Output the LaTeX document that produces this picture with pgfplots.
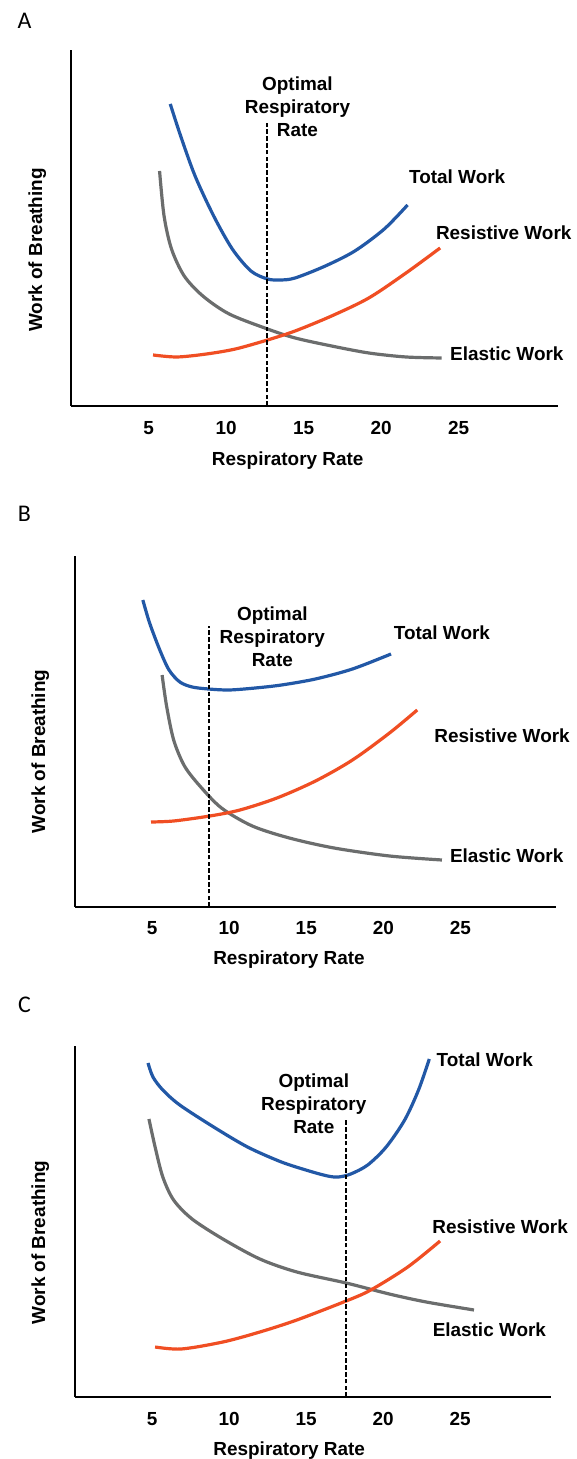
\documentclass[border=0pt]{standalone}
\usepackage{fontspec}
\setmainfont{Liberation Sans}
\newfontfamily\letterfont{Carlito}
\usepackage{pgfplots}
\pgfplotsset{compat=1.18}

\definecolor{totblue}{HTML}{2258A6}
\definecolor{resred}{HTML}{F04E23}
\definecolor{elgray}{HTML}{6B6D6D}

\newcommand{\lblfont}{\fontsize{19}{23}\selectfont\bfseries}

\tikzset{txt/.style={font=\lblfont, align=center, inner sep=0pt},
         panel/.style={font=\letterfont\fontsize{24}{26}\selectfont, anchor=base}}

\pgfplotsset{
 wob/.style={
  scale only axis,
  anchor=south west,
  axis x line*=bottom, axis y line*=left,
  axis line style={line width=2.4bp,-},
  xmin=0, ymin=0,
  xtick={5,10,15,20,25}, ytick=\empty,
  major tick length=0pt,
  /pgf/number format/assume math mode=true,
  tick label style={font=\lblfont},
  xticklabel style={anchor=base, yshift=-29bp},
  label style={font=\lblfont},
  xlabel={Respiratory Rate},
  ylabel={Work of Breathing},
  clip=false,
 },
 total/.style={color=totblue, line width=3.2bp, smooth},
 resist/.style={color=resred, line width=3.2bp, smooth},
 elastic/.style={color=elgray, line width=3.2bp, smooth},
 optimal/.style={black, line width=1.9bp, dash pattern=on 4.5bp off 2.3bp},
}

\begin{document}
\begin{tikzpicture}
\path[use as bounding box] (0,0) rectangle (577bp,1459bp);

% ---------------- Panel A ----------------
\node[panel] at (24.5bp,1430bp) {A};
\begin{axis}[wob, at={(71bp,1053bp)}, width=487bp, height=356bp,
  xmax=31.4, ymax=356,
  xlabel style={at={(axis description cs:0.445,0)}, anchor=base, yshift=-60bp},
  ylabel style={at={(axis description cs:-0.0595,0.438)}, anchor=base},
]
\addplot[total] coordinates {(6.4,302) (7.07,270) (8.0,230) (9.2,190) (10.4,157) (11.6,135) (12.67,127) (13.5,126) (14.45,128) (16.4,140) (18.3,155) (20.2,177) (21.7,201)};
\addplot[elastic] coordinates {(5.71,235) (6.0,190) (6.48,157) (7.3,130) (8.5,110) (10.2,92) (12.67,77) (14.45,68) (16.8,60) (19.2,53) (21.6,49) (23.9,48)};
\addplot[resist] coordinates {(5.29,51) (6.83,49) (8.74,52) (10.6,57) (12.67,66) (14.45,75) (16.8,90) (19.2,108) (21.6,133) (23.8,158)};
\addplot[optimal, line width=2.2bp] coordinates {(12.65,0) (12.65,283)};
\node[txt] at (axis cs:14.6,299) {Optimal\\Respiratory\\Rate};
\node[txt] at (axis cs:24.9,229) {Total Work};
\node[txt] at (axis cs:27.9,173) {Resistive Work};
\node[txt] at (axis cs:28.1,52) {Elastic Work};
\end{axis}

% ---------------- Panel B ----------------
\node[panel] at (24.5bp,937bp) {B};
\begin{axis}[wob, at={(75bp,552bp)}, width=481bp, height=351bp,
  xmax=31.2, ymax=351,
  xticklabel style={yshift=1bp},
  xlabel style={at={(axis description cs:0.445,0)}, anchor=base, yshift=-58bp},
  ylabel style={at={(axis description cs:-0.062,0.443)}, anchor=base},
]
\addplot[total] coordinates {(4.4,307) (4.84,284) (5.5,257) (6.1,237) (6.8,225) (7.6,220) (8.65,218) (10.0,217) (11.7,219) (13.4,222) (15.6,228) (18.0,238) (20.5,253)};
\addplot[elastic] coordinates {(5.65,232) (5.94,201) (6.4,167) (7.1,141) (8.1,121) (9.5,99) (11.5,81) (13.9,69) (16.8,59) (20.4,51) (23.8,47)};
\addplot[resist] coordinates {(4.93,85) (6.4,86) (8.75,91) (10.7,97) (13.1,109) (15.6,126) (18.0,147) (20.4,174) (22.2,197)};
\addplot[optimal] coordinates {(8.7,0) (8.7,281)};
\node[txt] at (axis cs:12.8,270) {Optimal\\Respiratory\\Rate};
\node[txt] at (axis cs:23.8,274) {Total Work};
\node[txt] at (axis cs:27.7,171) {Resistive Work};
\node[txt] at (axis cs:28.0,51) {Elastic Work};
\end{axis}

% ---------------- Panel C ----------------
\node[panel] at (24.5bp,446bp) {C};
\begin{axis}[wob, at={(75bp,62bp)}, width=476bp, height=351bp,
  xmax=30.9, ymax=351,
  xticklabel style={yshift=1bp},
  xlabel style={at={(axis description cs:0.45,0)}, anchor=base, yshift=-58bp},
  ylabel style={at={(axis description cs:-0.063,0.44)}, anchor=base},
]
\addplot[total] coordinates {(4.74,334) (5.06,320) (5.7,307) (6.8,292) (9.0,270) (11.2,250) (13.4,235) (15.2,226) (16.4,221) (17.1,220) (17.9,223) (19.0,232) (20.2,250) (21.4,277) (22.3,307) (23.0,338)};
\addplot[elastic] coordinates {(4.8,278) (5.2,250) (5.7,220) (6.4,197) (7.6,178) (9.6,158) (12.0,138) (14.4,125) (17.6,114) (20.4,103) (22.8,95) (25.9,87)};
\addplot[resist] coordinates {(5.2,50) (6.9,48) (9.6,55) (12.0,65) (14.4,77) (17.6,96) (19.2,107) (21.6,130) (23.7,156)};
\addplot[optimal] coordinates {(17.6,0) (17.6,278)};
\node[txt] at (axis cs:15.5,293) {Optimal\\Respiratory\\Rate};
\node[txt] at (axis cs:26.6,337) {Total Work};
\node[txt] at (axis cs:27.6,170) {Resistive Work};
\node[txt] at (axis cs:26.9,67) {Elastic Work};
\end{axis}
\end{tikzpicture}
\end{document}
